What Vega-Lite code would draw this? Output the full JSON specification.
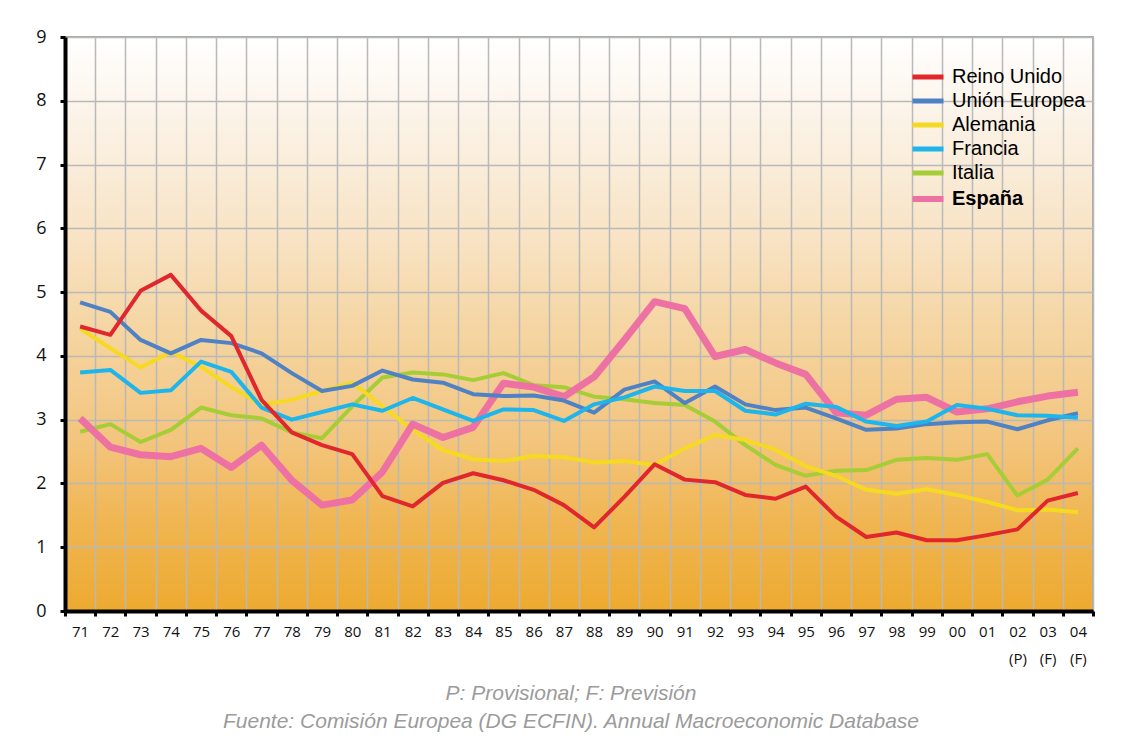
{
  "$schema": "https://vega.github.io/schema/vega-lite/v6.json",
  "width": 1028,
  "height": 574,
  "autosize": {"type": "none"},
  "padding": {"left": 65, "top": 37, "right": 29, "bottom": 127},
  "background": "#FFFFFF",
  "view": {
    "fill": {"gradient": "linear", "x1": 0, "y1": 0, "x2": 0, "y2": 1,
      "stops": [
        {"offset": 0, "color": "#FFFFFF"},
        {"offset": 0.15, "color": "#FBF2E6"},
        {"offset": 0.35, "color": "#F8E3C4"},
        {"offset": 0.5, "color": "#F5D6A4"},
        {"offset": 0.7, "color": "#F3C57E"},
        {"offset": 0.85, "color": "#F0B550"},
        {"offset": 1, "color": "#EDAA30"}
      ]},
    "stroke": "#A9A9A9",
    "strokeWidth": 2
  },
  "title": {
    "text": ["P: Provisional; F: Previsión", "Fuente: Comisión Europea (DG ECFIN). Annual Macroeconomic Database"],
    "orient": "bottom",
    "anchor": "middle",
    "font": "Liberation Sans Narrow, Liberation Sans",
    "fontStyle": "italic",
    "fontWeight": "normal",
    "fontSize": 21,
    "color": "#9B9B9B",
    "lineHeight": 28,
    "offset": 17,
    "dx": -8
  },
  "data": {"values": [
    {"a":"71","p":"Italia","v":2.81},{"a":"72","p":"Italia","v":2.93},{"a":"73","p":"Italia","v":2.65},{"a":"74","p":"Italia","v":2.84},{"a":"75","p":"Italia","v":3.19},{"a":"76","p":"Italia","v":3.07},{"a":"77","p":"Italia","v":3.02},{"a":"78","p":"Italia","v":2.8},{"a":"79","p":"Italia","v":2.71},{"a":"80","p":"Italia","v":3.21},{"a":"81","p":"Italia","v":3.66},{"a":"82","p":"Italia","v":3.74},{"a":"83","p":"Italia","v":3.71},{"a":"84","p":"Italia","v":3.62},{"a":"85","p":"Italia","v":3.73},{"a":"86","p":"Italia","v":3.54},{"a":"87","p":"Italia","v":3.51},{"a":"88","p":"Italia","v":3.36},{"a":"89","p":"Italia","v":3.32},{"a":"90","p":"Italia","v":3.26},{"a":"91","p":"Italia","v":3.23},{"a":"92","p":"Italia","v":2.97},{"a":"93","p":"Italia","v":2.6},{"a":"94","p":"Italia","v":2.29},{"a":"95","p":"Italia","v":2.12},{"a":"96","p":"Italia","v":2.2},{"a":"97","p":"Italia","v":2.21},{"a":"98","p":"Italia","v":2.37},{"a":"99","p":"Italia","v":2.4},{"a":"00","p":"Italia","v":2.37},{"a":"01","p":"Italia","v":2.46},{"a":"02","p":"Italia","v":1.81},{"a":"03","p":"Italia","v":2.06},{"a":"04","p":"Italia","v":2.55},
    {"a":"71","p":"Alemania","v":4.43},{"a":"72","p":"Alemania","v":4.12},{"a":"73","p":"Alemania","v":3.82},{"a":"74","p":"Alemania","v":4.06},{"a":"75","p":"Alemania","v":3.83},{"a":"76","p":"Alemania","v":3.51},{"a":"77","p":"Alemania","v":3.23},{"a":"78","p":"Alemania","v":3.31},{"a":"79","p":"Alemania","v":3.45},{"a":"80","p":"Alemania","v":3.58},{"a":"81","p":"Alemania","v":3.21},{"a":"82","p":"Alemania","v":2.84},{"a":"83","p":"Alemania","v":2.52},{"a":"84","p":"Alemania","v":2.38},{"a":"85","p":"Alemania","v":2.35},{"a":"86","p":"Alemania","v":2.43},{"a":"87","p":"Alemania","v":2.41},{"a":"88","p":"Alemania","v":2.33},{"a":"89","p":"Alemania","v":2.35},{"a":"90","p":"Alemania","v":2.29},{"a":"91","p":"Alemania","v":2.55},{"a":"92","p":"Alemania","v":2.76},{"a":"93","p":"Alemania","v":2.68},{"a":"94","p":"Alemania","v":2.53},{"a":"95","p":"Alemania","v":2.27},{"a":"96","p":"Alemania","v":2.12},{"a":"97","p":"Alemania","v":1.9},{"a":"98","p":"Alemania","v":1.84},{"a":"99","p":"Alemania","v":1.91},{"a":"00","p":"Alemania","v":1.82},{"a":"01","p":"Alemania","v":1.71},{"a":"02","p":"Alemania","v":1.58},{"a":"03","p":"Alemania","v":1.59},{"a":"04","p":"Alemania","v":1.55},
    {"a":"71","p":"España","v":3.02},{"a":"72","p":"España","v":2.57},{"a":"73","p":"España","v":2.45},{"a":"74","p":"España","v":2.42},{"a":"75","p":"España","v":2.55},{"a":"76","p":"España","v":2.25},{"a":"77","p":"España","v":2.6},{"a":"78","p":"España","v":2.05},{"a":"79","p":"España","v":1.66},{"a":"80","p":"España","v":1.74},{"a":"81","p":"España","v":2.18},{"a":"82","p":"España","v":2.93},{"a":"83","p":"España","v":2.72},{"a":"84","p":"España","v":2.88},{"a":"85","p":"España","v":3.57},{"a":"86","p":"España","v":3.51},{"a":"87","p":"España","v":3.36},{"a":"88","p":"España","v":3.67},{"a":"89","p":"España","v":4.25},{"a":"90","p":"España","v":4.85},{"a":"91","p":"España","v":4.74},{"a":"92","p":"España","v":3.99},{"a":"93","p":"España","v":4.1},{"a":"94","p":"España","v":3.89},{"a":"95","p":"España","v":3.71},{"a":"96","p":"España","v":3.11},{"a":"97","p":"España","v":3.07},{"a":"98","p":"España","v":3.32},{"a":"99","p":"España","v":3.35},{"a":"00","p":"España","v":3.12},{"a":"01","p":"España","v":3.17},{"a":"02","p":"España","v":3.28},{"a":"03","p":"España","v":3.37},{"a":"04","p":"España","v":3.43},
    {"a":"71","p":"Unión Europea","v":4.84},{"a":"72","p":"Unión Europea","v":4.69},{"a":"73","p":"Unión Europea","v":4.25},{"a":"74","p":"Unión Europea","v":4.04},{"a":"75","p":"Unión Europea","v":4.25},{"a":"76","p":"Unión Europea","v":4.2},{"a":"77","p":"Unión Europea","v":4.04},{"a":"78","p":"Unión Europea","v":3.73},{"a":"79","p":"Unión Europea","v":3.45},{"a":"80","p":"Unión Europea","v":3.53},{"a":"81","p":"Unión Europea","v":3.77},{"a":"82","p":"Unión Europea","v":3.63},{"a":"83","p":"Unión Europea","v":3.58},{"a":"84","p":"Unión Europea","v":3.4},{"a":"85","p":"Unión Europea","v":3.37},{"a":"86","p":"Unión Europea","v":3.38},{"a":"87","p":"Unión Europea","v":3.3},{"a":"88","p":"Unión Europea","v":3.11},{"a":"89","p":"Unión Europea","v":3.47},{"a":"90","p":"Unión Europea","v":3.6},{"a":"91","p":"Unión Europea","v":3.26},{"a":"92","p":"Unión Europea","v":3.52},{"a":"93","p":"Unión Europea","v":3.24},{"a":"94","p":"Unión Europea","v":3.15},{"a":"95","p":"Unión Europea","v":3.19},{"a":"96","p":"Unión Europea","v":3.02},{"a":"97","p":"Unión Europea","v":2.84},{"a":"98","p":"Unión Europea","v":2.86},{"a":"99","p":"Unión Europea","v":2.93},{"a":"00","p":"Unión Europea","v":2.96},{"a":"01","p":"Unión Europea","v":2.97},{"a":"02","p":"Unión Europea","v":2.85},{"a":"03","p":"Unión Europea","v":2.99},{"a":"04","p":"Unión Europea","v":3.1},
    {"a":"71","p":"Francia","v":3.74},{"a":"72","p":"Francia","v":3.78},{"a":"73","p":"Francia","v":3.42},{"a":"74","p":"Francia","v":3.46},{"a":"75","p":"Francia","v":3.91},{"a":"76","p":"Francia","v":3.75},{"a":"77","p":"Francia","v":3.19},{"a":"78","p":"Francia","v":3.0},{"a":"79","p":"Francia","v":3.12},{"a":"80","p":"Francia","v":3.24},{"a":"81","p":"Francia","v":3.14},{"a":"82","p":"Francia","v":3.34},{"a":"83","p":"Francia","v":3.16},{"a":"84","p":"Francia","v":2.98},{"a":"85","p":"Francia","v":3.16},{"a":"86","p":"Francia","v":3.15},{"a":"87","p":"Francia","v":2.98},{"a":"88","p":"Francia","v":3.24},{"a":"89","p":"Francia","v":3.35},{"a":"90","p":"Francia","v":3.52},{"a":"91","p":"Francia","v":3.45},{"a":"92","p":"Francia","v":3.45},{"a":"93","p":"Francia","v":3.14},{"a":"94","p":"Francia","v":3.08},{"a":"95","p":"Francia","v":3.25},{"a":"96","p":"Francia","v":3.2},{"a":"97","p":"Francia","v":2.97},{"a":"98","p":"Francia","v":2.9},{"a":"99","p":"Francia","v":2.97},{"a":"00","p":"Francia","v":3.23},{"a":"01","p":"Francia","v":3.17},{"a":"02","p":"Francia","v":3.07},{"a":"03","p":"Francia","v":3.06},{"a":"04","p":"Francia","v":3.03},
    {"a":"71","p":"Reino Unido","v":4.46},{"a":"72","p":"Reino Unido","v":4.33},{"a":"73","p":"Reino Unido","v":5.02},{"a":"74","p":"Reino Unido","v":5.27},{"a":"75","p":"Reino Unido","v":4.71},{"a":"76","p":"Reino Unido","v":4.31},{"a":"77","p":"Reino Unido","v":3.31},{"a":"78","p":"Reino Unido","v":2.8},{"a":"79","p":"Reino Unido","v":2.6},{"a":"80","p":"Reino Unido","v":2.46},{"a":"81","p":"Reino Unido","v":1.8},{"a":"82","p":"Reino Unido","v":1.64},{"a":"83","p":"Reino Unido","v":2.01},{"a":"84","p":"Reino Unido","v":2.16},{"a":"85","p":"Reino Unido","v":2.05},{"a":"86","p":"Reino Unido","v":1.9},{"a":"87","p":"Reino Unido","v":1.66},{"a":"88","p":"Reino Unido","v":1.31},{"a":"89","p":"Reino Unido","v":1.79},{"a":"90","p":"Reino Unido","v":2.3},{"a":"91","p":"Reino Unido","v":2.06},{"a":"92","p":"Reino Unido","v":2.02},{"a":"93","p":"Reino Unido","v":1.82},{"a":"94","p":"Reino Unido","v":1.76},{"a":"95","p":"Reino Unido","v":1.95},{"a":"96","p":"Reino Unido","v":1.48},{"a":"97","p":"Reino Unido","v":1.16},{"a":"98","p":"Reino Unido","v":1.23},{"a":"99","p":"Reino Unido","v":1.11},{"a":"00","p":"Reino Unido","v":1.11},{"a":"01","p":"Reino Unido","v":1.19},{"a":"02","p":"Reino Unido","v":1.28},{"a":"03","p":"Reino Unido","v":1.73},{"a":"04","p":"Reino Unido","v":1.85}
  ]},
  "mark": {"type": "line", "strokeJoin": "round", "strokeCap": "butt"},
  "encoding": {
    "x": {
      "field": "a", "type": "nominal",
      "scale": {"domain": ["71","72","73","74","75","76","77","78","79","80","81","82","83","84","85","86","87","88","89","90","91","92","93","94","95","96","97","98","99","00","01","02","03","04"], "paddingInner": 0, "paddingOuter": 0},
      "axis": {
        "title": null,
        "labelAngle": 0,
        "tickBand": "extent",
        "grid": true,
        "gridColor": "#B9B9B9",
        "gridWidth": 1.5,
        "domainColor": "#000000",
        "domainWidth": 4,
        "tickColor": "#000000",
        "tickWidth": 3,
        "tickSize": 5,
        "labelFont": "Open Sans",
        "labelFontSize": 15,
        "labelColor": "#111111",
        "labelPadding": 8,
        "labelLineHeight": 27,
        "labelBaseline": "top",
        "labelExpr": "datum.value == '02' ? ['02', '(P)'] : (datum.value == '03' || datum.value == '04') ? [datum.value, '(F)'] : datum.value"
      }
    },
    "y": {
      "field": "v", "type": "quantitative",
      "scale": {"domain": [0, 9], "nice": false},
      "axis": {
        "title": null,
        "values": [0,1,2,3,4,5,6,7,8,9],
        "grid": true,
        "gridColor": "#B9B9B9",
        "gridWidth": 1.5,
        "domainColor": "#000000",
        "domainWidth": 4,
        "tickColor": "#000000",
        "tickWidth": 3,
        "tickSize": 5,
        "labelFont": "Open Sans",
        "labelFontSize": 18,
        "labelColor": "#111111",
        "labelPadding": 14
      }
    },
    "color": {
      "field": "p", "type": "nominal",
      "scale": {
        "domain": ["Reino Unido","Unión Europea","Alemania","Francia","Italia","España"],
        "range": ["#E0272E","#4F82C4","#F6DA22","#1DB5EC","#A7CD36","#EE71A4"]
      },
      "legend": {
        "title": null,
        "orient": "none",
        "legendX": 853,
        "legendY": 30,
        "symbolType": "stroke",
        "symbolSize": 100,
        "symbolStrokeWidth": 5,
        "labelFont": "Liberation Sans",
        "labelFontSize": 20,
        "labelColor": "#000000",
        "labelOffset": 14,
        "rowPadding": 4,
        "labelLimit": 300,
        "encode": {
          "labels": {"update": {"fontWeight": {"signal": "datum.value === 'España' ? 'bold' : 'normal'"}}},
          "symbols": {"update": {"size": {"value": 961}, "strokeWidth": {"signal": "datum.value === 'España' ? 6 : 5"}}}
        }
      }
    },
    "strokeWidth": {"condition": {"test": "datum.p === 'España'", "value": 7}, "value": 4}
  }
}
